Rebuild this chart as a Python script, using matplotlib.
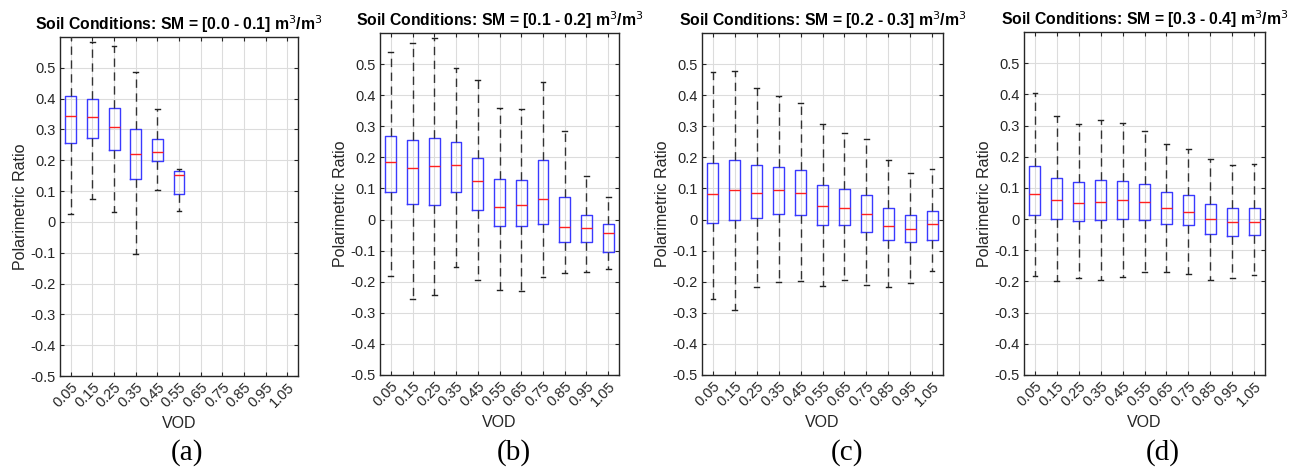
import matplotlib
matplotlib.use("Agg")
import matplotlib.pyplot as plt
import numpy as np

plt.rcParams['font.family'] = ['Liberation Sans', 'DejaVu Sans']

vod_labels = ["0.05", "0.15", "0.25", "0.35", "0.45", "0.55", "0.65", "0.75", "0.85", "0.95", "1.05"]
titles = ["[0.0 - 0.1]", "[0.1 - 0.2]", "[0.2 - 0.3]", "[0.3 - 0.4]"]
captions = ["(a)", "(b)", "(c)", "(d)"]

# panel (a): only six VOD bins have data
a_low = [0.025, 0.074, 0.032, -0.103, 0.105, 0.037]
a_q1 = [0.255, 0.272, 0.234, 0.138, 0.198, 0.092]
a_med = [0.343, 0.340, 0.308, 0.220, 0.227, 0.152]
a_q3 = [0.408, 0.398, 0.368, 0.300, 0.268, 0.166]
a_high = [0.650, 0.584, 0.571, 0.486, 0.366, 0.171]

b_low = [-0.181, -0.256, -0.242, -0.152, -0.196, -0.226, -0.229, -0.185, -0.172, -0.170, -0.159]
b_q1 = [0.089, 0.051, 0.047, 0.089, 0.032, -0.022, -0.022, -0.015, -0.071, -0.071, -0.104]
b_med = [0.185, 0.167, 0.171, 0.176, 0.125, 0.041, 0.047, 0.065, -0.024, -0.027, -0.044]
b_q3 = [0.269, 0.256, 0.262, 0.251, 0.199, 0.130, 0.128, 0.191, 0.073, 0.016, -0.013]
b_high = [0.538, 0.569, 0.583, 0.488, 0.448, 0.359, 0.354, 0.443, 0.285, 0.139, 0.073]

c_low = [-0.254, -0.290, -0.216, -0.202, -0.199, -0.214, -0.196, -0.211, -0.216, -0.204, -0.167]
c_q1 = [-0.011, 0.000, 0.005, 0.017, 0.014, -0.019, -0.019, -0.040, -0.067, -0.072, -0.065]
c_med = [0.082, 0.094, 0.085, 0.094, 0.085, 0.043, 0.036, 0.017, -0.021, -0.031, -0.015]
c_q3 = [0.182, 0.190, 0.174, 0.168, 0.158, 0.111, 0.099, 0.079, 0.036, 0.016, 0.028]
c_high = [0.475, 0.479, 0.422, 0.396, 0.376, 0.308, 0.277, 0.259, 0.193, 0.151, 0.161]

d_low = [-0.181, -0.197, -0.189, -0.195, -0.185, -0.171, -0.170, -0.175, -0.195, -0.189, -0.180]
d_q1 = [0.013, 0.000, -0.006, -0.003, 0.000, -0.003, -0.016, -0.020, -0.047, -0.054, -0.050]
d_med = [0.082, 0.060, 0.051, 0.055, 0.060, 0.055, 0.034, 0.022, 0.000, -0.008, -0.010]
d_q3 = [0.170, 0.131, 0.118, 0.125, 0.122, 0.112, 0.088, 0.076, 0.048, 0.036, 0.036]
d_high = [0.403, 0.332, 0.304, 0.318, 0.308, 0.283, 0.242, 0.226, 0.194, 0.172, 0.176]

panels = [
    (a_low, a_q1, a_med, a_q3, a_high),
    (b_low, b_q1, b_med, b_q3, b_high),
    (c_low, c_q1, c_med, c_q3, c_high),
    (d_low, d_q1, d_med, d_q3, d_high),
]

W, H = 1303, 470
fig = plt.figure(figsize=(W / 100, H / 100), dpi=100)

# axes boxes in pixels: left, right, top, bottom
boxes_px = [(60, 298, 37, 376), (380, 619, 33, 375), (702, 943, 33, 375), (1024, 1265, 32, 375)]
caption_x = [187, 514, 847, 1163]

dark = '#262626'
for i, (pan, (l, r, t, b)) in enumerate(zip(panels, boxes_px)):
    ax = fig.add_axes([l / W, 1 - b / H, (r - l) / W, (b - t) / H])
    low, q1, med, q3, high = pan
    stats = []
    for k in range(len(low)):
        stats.append(dict(whislo=low[k], q1=q1[k], med=med[k], q3=q3[k], whishi=high[k], fliers=[]))
    pos = np.arange(1, len(low) + 1)
    ax.bxp(stats, positions=pos, widths=0.5, capwidths=0.22, showfliers=False,
           boxprops=dict(color='#3a3aff', linewidth=1.0),
           medianprops=dict(color='#ff2020', linewidth=1.0),
           whiskerprops=dict(color='#333333', linewidth=1.0, linestyle=(0, (6, 4))),
           capprops=dict(color='#222222', linewidth=1.0),
           manage_ticks=False, zorder=3)
    ax.set_xlim(0.5, 11.5)
    ax.set_ylim(-0.5, 0.6)
    ax.set_xticks(np.arange(1, 12))
    ax.set_xticklabels(vod_labels, rotation=45, ha='right', va='top', rotation_mode='anchor')
    yt = np.round(np.arange(-0.5, 0.51, 0.1), 1)
    ax.set_yticks(yt)
    ax.set_yticklabels(["0" if abs(v) < 1e-9 else f"{v:.1f}" for v in yt])
    ax.grid(True, color='#dcdcdc', linewidth=0.8, zorder=0)
    ax.set_axisbelow(True)
    ax.tick_params(direction='in', length=3, width=0.8, colors=dark, labelsize=10.5,
                   top=True, right=True, pad=3)
    for s in ax.spines.values():
        s.set_color(dark)
        s.set_linewidth(1.0)
    ax.set_xlabel("VOD", fontsize=11.5, color=dark, labelpad=4)
    ax.set_ylabel("Polarimetric Ratio", fontsize=11.5, color=dark, labelpad=2)
    ax.set_title("Soil Conditions: SM = " + titles[i] + r" m$^3$/m$^3$",
                 fontsize=11.3, fontweight='bold', color='black', pad=5)
    fig.text(caption_x[i] / W, 1 - 453 / H, captions[i], ha='center', va='center',
             fontsize=21, family='Liberation Serif')

fig.savefig("out.png", dpi=100)
